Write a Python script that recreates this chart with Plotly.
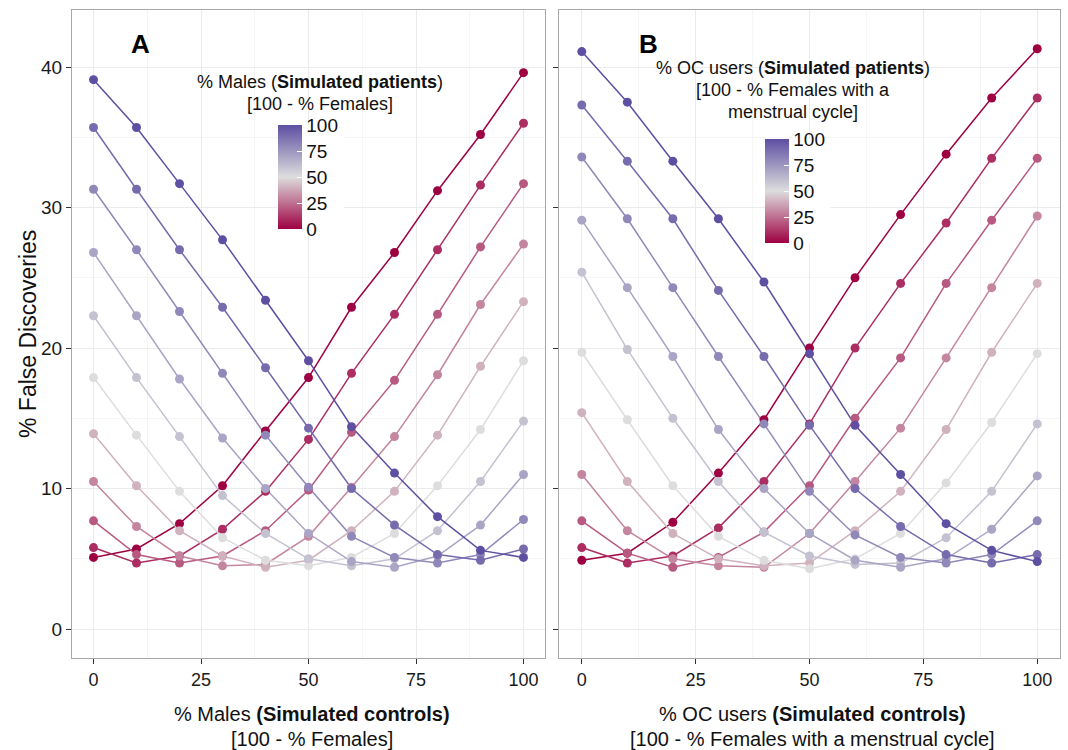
import plotly.graph_objects as go
from plotly.colors import sample_colorscale

# ---------------- data ----------------
x_controls = [0, 10, 20, 30, 40, 50, 60, 70, 80, 90, 100]
patient_levels = [0, 10, 20, 30, 40, 50, 60, 70, 80, 90, 100]
colorbar_ticks = [0, 25, 50, 75, 100]
x_ticks = [0, 25, 50, 75, 100]
y_ticks = [0, 10, 20, 30, 40]

# Panel A: % Males (simulated patients) -> % false discoveries vs % males (controls)
a_p0 = [5.1, 5.7, 7.5, 10.2, 14.1, 17.9, 22.9, 26.8, 31.2, 35.2, 39.6]
a_p10 = [5.8, 4.7, 5.2, 7.1, 9.8, 13.5, 18.2, 22.4, 27.0, 31.6, 36.0]
a_p20 = [7.7, 5.3, 4.7, 5.2, 7.0, 9.9, 14.0, 17.7, 22.4, 27.2, 31.7]
a_p30 = [10.5, 7.3, 5.2, 4.5, 4.6, 6.6, 10.1, 13.7, 18.1, 23.1, 27.4]
a_p40 = [13.9, 10.2, 7.0, 5.2, 4.4, 4.9, 7.0, 9.8, 13.8, 18.7, 23.3]
a_p50 = [17.9, 13.8, 9.8, 6.5, 4.9, 4.5, 5.1, 6.8, 10.2, 14.2, 19.1]
a_p60 = [22.3, 17.9, 13.7, 9.5, 6.8, 5.0, 4.5, 5.0, 7.0, 10.5, 14.8]
a_p70 = [26.8, 22.3, 17.8, 13.6, 10.0, 6.8, 4.8, 4.4, 5.2, 7.4, 11.0]
a_p80 = [31.3, 27.0, 22.6, 18.2, 13.8, 10.1, 6.6, 5.1, 4.7, 5.3, 7.8]
a_p90 = [35.7, 31.3, 27.0, 22.9, 18.6, 14.3, 10.0, 7.4, 5.3, 4.9, 5.7]
a_p100 = [39.1, 35.7, 31.7, 27.7, 23.4, 19.1, 14.4, 11.1, 8.0, 5.6, 5.1]

# Panel B: % OC users (simulated patients)
b_p0 = [4.9, 5.4, 7.6, 11.1, 14.9, 20.0, 25.0, 29.5, 33.8, 37.8, 41.3]
b_p10 = [5.8, 4.7, 5.2, 7.2, 10.5, 14.6, 20.0, 24.6, 28.9, 33.5, 37.8]
b_p20 = [7.7, 5.4, 4.4, 5.1, 6.9, 10.2, 15.0, 19.3, 24.6, 29.1, 33.5]
b_p30 = [11.0, 7.0, 5.0, 4.5, 4.4, 6.8, 10.5, 14.3, 19.3, 24.3, 29.4]
b_p40 = [15.4, 10.5, 6.8, 5.0, 4.5, 4.7, 7.0, 9.8, 14.2, 19.7, 24.6]
b_p50 = [19.7, 14.9, 10.2, 6.6, 4.9, 4.3, 5.0, 6.8, 10.4, 14.7, 19.6]
b_p60 = [25.4, 19.9, 15.0, 10.5, 6.9, 5.2, 4.6, 4.7, 6.5, 9.8, 14.6]
b_p70 = [29.1, 24.3, 19.4, 14.2, 10.0, 6.8, 4.9, 4.4, 5.0, 7.1, 10.9]
b_p80 = [33.6, 29.2, 24.3, 19.4, 14.6, 9.8, 6.7, 5.1, 4.7, 5.3, 7.7]
b_p90 = [37.3, 33.3, 29.2, 24.1, 19.4, 14.5, 10.0, 7.3, 5.3, 4.7, 5.3]
b_p100 = [41.1, 37.5, 33.3, 29.2, 24.7, 19.6, 14.5, 11.0, 7.5, 5.6, 4.8]

panel_a_series = [a_p0, a_p10, a_p20, a_p30, a_p40, a_p50, a_p60, a_p70, a_p80, a_p90, a_p100]
panel_b_series = [b_p0, b_p10, b_p20, b_p30, b_p40, b_p50, b_p60, b_p70, b_p80, b_p90, b_p100]

COLORSCALE = [[0.0, "#9E0142"], [0.5, "#DDDDDD"], [1.0, "#5E4FA2"]]

# ---------------- layout geometry (pixels) ----------------
W, H = 1068, 750
ML, MR, MT, MB = 72, 8, 10, 92
PW, PH = W - ML - MR, H - MT - MB


def px(x):
    return (x - ML) / PW


def py(y):
    return (H - MB - y) / PH


FONT = "Liberation Sans, Arial, sans-serif"

fig = go.Figure()

for panel, series_list, xa, ya, cax in [
    ("A", panel_a_series, "x", "y", "coloraxis"),
    ("B", panel_b_series, "x2", "y2", "coloraxis2"),
]:
    # lines first
    for p, vals in zip(patient_levels, series_list):
        col = sample_colorscale(COLORSCALE, [p / 100.0])[0]
        fig.add_trace(go.Scatter(
            x=x_controls, y=vals, mode="lines", xaxis=xa, yaxis=ya,
            line=dict(color=col, width=1.5), showlegend=False, hoverinfo="skip"))
    # points on top
    for p, vals in zip(patient_levels, series_list):
        fig.add_trace(go.Scatter(
            x=x_controls, y=vals, mode="markers", xaxis=xa, yaxis=ya,
            marker=dict(size=9, color=[p] * len(vals), coloraxis=cax, line=dict(width=0)),
            showlegend=False))

axis_common = dict(
    range=[-5, 105], tickvals=x_ticks, ticks="outside", ticklen=5, tickcolor="#333333",
    tickfont=dict(family=FONT, size=18, color="#1a1a1a"),
    showgrid=True, gridcolor="#EBEBEB", gridwidth=1,
    minor=dict(tickvals=[12.5, 37.5, 62.5, 87.5], showgrid=True, gridcolor="#F5F5F5", gridwidth=0.6, ticks=""),
    showline=True, linecolor="#A8A8A8", linewidth=1, mirror=True, zeroline=False,
)
yaxis_common = dict(
    range=[-2.06, 44.06], tickvals=y_ticks, ticks="outside", ticklen=5, tickcolor="#333333",
    tickfont=dict(family=FONT, size=19, color="#1a1a1a"),
    showgrid=True, gridcolor="#EBEBEB", gridwidth=1,
    minor=dict(tickvals=[5, 15, 25, 35], showgrid=True, gridcolor="#F5F5F5", gridwidth=0.6, ticks=""),
    showline=True, linecolor="#A8A8A8", linewidth=1, mirror=True, zeroline=False,
)

colorbar_common = dict(
    thickness=24, lenmode="pixels", len=104, xanchor="left", yanchor="top",
    xpad=0, ypad=0, outlinewidth=0, tickvals=colorbar_ticks, ticks="inside",
    tickcolor="white", ticklen=5, tickwidth=1,
    tickfont=dict(family=FONT, size=19, color="#111111"), bgcolor="white",
)

fig.update_layout(
    width=W, height=H,
    margin=dict(l=ML, r=MR, t=MT, b=MB),
    paper_bgcolor="white", plot_bgcolor="white",
    xaxis=dict(domain=[0, px(545)], anchor="y", **axis_common),
    xaxis2=dict(domain=[px(559), 1], anchor="y2", **axis_common),
    yaxis=dict(domain=[0, 1], anchor="x", **yaxis_common),
    yaxis2=dict(domain=[0, 1], anchor="x2", matches="y", showticklabels=False, **yaxis_common),
    coloraxis=dict(cmin=0, cmax=100, colorscale=COLORSCALE,
                   colorbar=dict(x=px(278), y=py(125), **colorbar_common)),
    coloraxis2=dict(cmin=0, cmax=100, colorscale=COLORSCALE,
                    colorbar=dict(x=px(765), y=py(139), **colorbar_common)),
    showlegend=False,
)

annotations = [
    # panel letters
    dict(text="<b>A</b>", x=px(140), y=py(44), font=dict(size=26, color="black")),
    dict(text="<b>B</b>", x=px(648), y=py(44), font=dict(size=26, color="black")),
    # legend titles (one annotation per line)
    dict(text="% Males (<b>Simulated patients</b>)", x=px(320), y=py(82), font=dict(size=18, color="#111111")),
    dict(text="[100 - % Females]", x=px(320), y=py(104), font=dict(size=18, color="#111111")),
    dict(text="% OC users (<b>Simulated patients</b>)", x=px(793), y=py(68), font=dict(size=18, color="#111111")),
    dict(text="[100 - % Females with a", x=px(793), y=py(90), font=dict(size=18, color="#111111")),
    dict(text="menstrual cycle]", x=px(793), y=py(112), font=dict(size=18, color="#111111")),
    # axis titles
    dict(text="% Males <b>(Simulated controls)</b>", x=px(312), y=py(714), font=dict(size=20, color="#111111")),
    dict(text="[100 - % Females]", x=px(312), y=py(739), font=dict(size=20, color="#111111")),
    dict(text="% OC users <b>(Simulated controls)</b>", x=px(812), y=py(714), font=dict(size=20, color="#111111")),
    dict(text="[100 - % Females with a menstrual cycle]", x=px(812), y=py(739), font=dict(size=20, color="#111111")),
    dict(text="% False Discoveries", x=px(28), y=py(334), textangle=-90,
         font=dict(size=23, color="#111111")),
]
for a in annotations:
    a.setdefault("xref", "paper")
    a.setdefault("yref", "paper")
    a.setdefault("showarrow", False)
    a.setdefault("xanchor", "center")
    a.setdefault("yanchor", "middle")
    a["font"].setdefault("family", FONT)
    fig.add_annotation(**a)

fig.write_html("out.html")
